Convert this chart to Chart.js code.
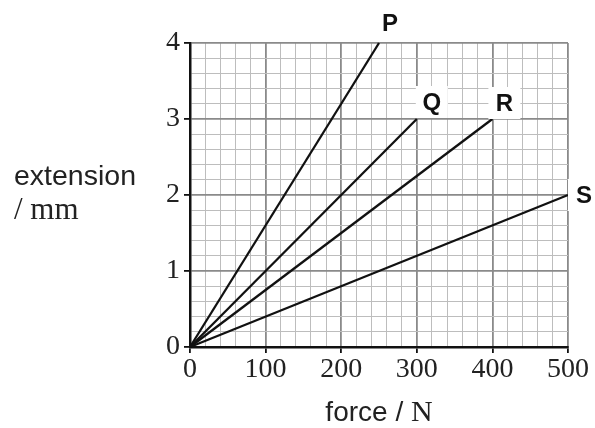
<!DOCTYPE html>
<html>
<head>
<meta charset="utf-8">
<script src="https://cdn.jsdelivr.net/npm/chart.js@4.4.1/dist/chart.umd.min.js"></script>
<style>
	html, body { margin: 0; padding: 0; background: #fff; }
	canvas { display: block; }
</style>
</head>
<body>
<canvas id="graph" width="595" height="428"></canvas>
<script>
// line names and their end points (all start at the origin)
const lineNames = ['P', 'Q', 'R', 'S'];
const endForce = [250, 300, 400, 500];
const endExtension = [4, 3, 3, 2];

// axis ranges
const forceMax = 500;
const extensionMax = 4;
const forceMajor = 100, forceMinor = 20;
const extMajor = 1, extMinor = 0.2;

// where the letter sits relative to the end of its line (px)
const labelOffsets = [[11, -20], [15, -17], [12, -16], [16, 0]];

const serif = '"Liberation Serif", "Times New Roman", serif';
const sans = '"Liberation Sans", Arial, sans-serif';

function isMajor(v, step) {
	return Math.abs(v / step - Math.round(v / step)) < 1e-6;
}

let datasets = lineNames.map(function(name, i) {
	return {
		label: name,
		data: [{ x: 0, y: 0 }, { x: endForce[i], y: endExtension[i] }],
		borderColor: '#111',
		borderWidth: 2.3,
		pointRadius: 0,
		clip: false
	};
});

// letters with white boxes + axis titles
let annotate = {
	id: 'annotate',
	afterDatasetsDraw: function(chart) {
		let c = chart.ctx;
		let xs = chart.scales.x, ys = chart.scales.y;
		c.save();
		c.font = 'bold 24px ' + sans;
		c.textAlign = 'center';
		c.textBaseline = 'middle';
		lineNames.forEach(function(name, i) {
			let px = xs.getPixelForValue(endForce[i]) + labelOffsets[i][0];
			let py = ys.getPixelForValue(endExtension[i]) + labelOffsets[i][1];
			c.fillStyle = '#fff';
			c.fillRect(px - 16, py - 16, 32, 32);
			c.fillStyle = '#111';
			c.fillText(name, px, py + 1);
		});

		// y title
		c.textAlign = 'left';
		c.textBaseline = 'alphabetic';
		c.fillStyle = '#222';
		c.font = '28.5px ' + sans;
		c.fillText('extension', 14, 185);
		c.font = '31px ' + serif;
		c.fillText('/ mm', 14, 219);

		// x title
		c.font = '28px ' + sans;
		let w1 = c.measureText('force / ').width;
		c.font = '30px ' + serif;
		let w2 = c.measureText('N').width;
		let cx = 379;
		let sx = cx - (w1 + w2) / 2;
		c.font = '28px ' + sans;
		c.fillText('force / ', sx, 421);
		c.font = '30px ' + serif;
		c.fillText('N', sx + w1, 421);
		c.restore();
	}
};

new Chart(document.getElementById('graph'), {
	type: 'line',
	data: { datasets: datasets },
	plugins: [annotate],
	options: {
		responsive: false,
		animation: false,
		events: [],
		layout: { padding: { top: 43, right: 27, left: 0, bottom: 0 } },
		plugins: { legend: { display: false }, tooltip: { enabled: false } },
		scales: {
			x: {
				type: 'linear',
				min: 0,
				max: forceMax,
				afterFit: function(scale) { scale.height = 81; },
				border: { color: '#111', width: 2.5 },
				grid: {
					color: function(ctx) { return isMajor(ctx.tick.value, forceMajor) ? '#8a8a8a' : '#bdbdbd'; },
					lineWidth: function(ctx) { return isMajor(ctx.tick.value, forceMajor) ? 1.8 : 1; },
					tickColor: function(ctx) { return isMajor(ctx.tick.value, forceMajor) ? '#111' : 'rgba(0,0,0,0)'; },
					tickLength: 6
				},
				ticks: {
					stepSize: forceMinor,
					autoSkip: false,
					maxRotation: 0,
					padding: 0,
					color: '#222',
					font: { family: serif, size: 28 },
					callback: function(v) { return isMajor(v, forceMajor) ? String(v) : ''; }
				}
			},
			y: {
				type: 'linear',
				min: 0,
				max: extensionMax,
				afterFit: function(scale) { scale.width = 190; },
				border: { color: '#111', width: 2.5 },
				grid: {
					color: function(ctx) { return isMajor(ctx.tick.value, extMajor) ? '#8a8a8a' : '#bdbdbd'; },
					lineWidth: function(ctx) { return isMajor(ctx.tick.value, extMajor) ? 1.8 : 1; },
					tickColor: function(ctx) { return isMajor(ctx.tick.value, extMajor) ? '#111' : 'rgba(0,0,0,0)'; },
					tickLength: 6
				},
				ticks: {
					stepSize: extMinor,
					autoSkip: false,
					padding: 4,
					color: '#222',
					font: { family: serif, size: 28 },
					callback: function(v) { return isMajor(v, extMajor) ? String(Math.round(v)) : ''; }
				}
			}
		}
	}
});
</script>
</body>
</html>
